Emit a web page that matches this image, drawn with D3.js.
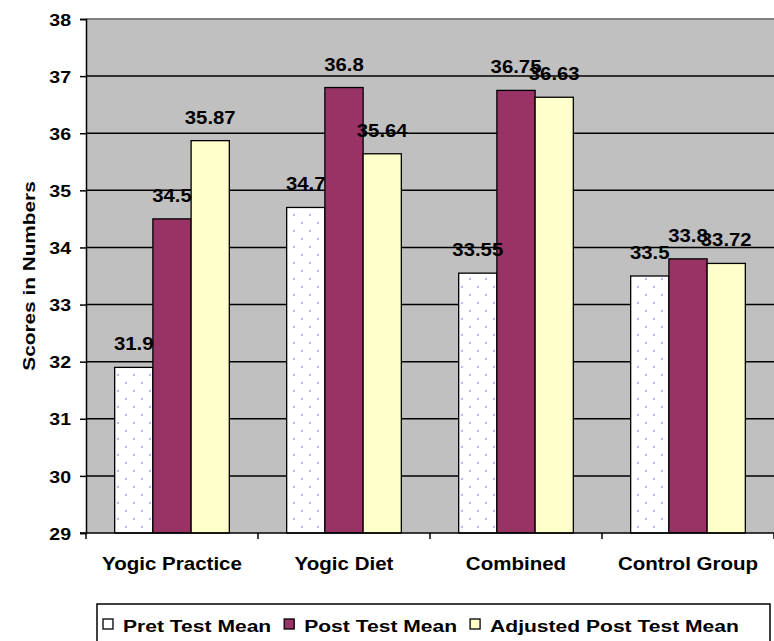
<!DOCTYPE html>
<html><head><meta charset="utf-8">
<script src="https://cdn.jsdelivr.net/npm/d3@7"></script>
<style>html,body{margin:0;padding:0;background:#fff;}svg{display:block;}text{font-family:"Liberation Sans",Arial,sans-serif;font-weight:bold;fill:#000;}</style>
</head><body>
<script>
const categories = ["Yogic Practice", "Yogic Diet", "Combined", "Control Group"];
const seriesNames = ["Pret Test Mean", "Post Test Mean", "Adjusted Post Test Mean"];
const pretValues = [31.9, 34.7, 33.55, 33.5];
const postValues = [34.5, 36.8, 36.75, 33.8];
const adjustedValues = [35.87, 35.64, 36.63, 33.72];
const yTicks = [29, 30, 31, 32, 33, 34, 35, 36, 37, 38];
const yTitle = "Scores in Numbers";

const W = 774, H = 641;
const L = 86, R = 774, T = 19, B = 533;
const svg = d3.select("body").append("svg").attr("width", W).attr("height", H);

const defs = svg.append("defs");
const pat = defs.append("pattern").attr("id", "dots").attr("patternUnits", "userSpaceOnUse")
  .attr("width", 16).attr("height", 16);
pat.append("rect").attr("width", 16).attr("height", 16).attr("fill", "#fff");
pat.append("circle").attr("cx", 6).attr("cy", 7).attr("r", 0.9).attr("fill", "#9a9aff");
pat.append("circle").attr("cx", 14).attr("cy", 15).attr("r", 0.9).attr("fill", "#9a9aff");

const fills = ["url(#dots)", "#993366", "#ffffcc"];
const legendFills = ["#ffffff", "#993366", "#ffffcc"];
const seriesValues = [pretValues, postValues, adjustedValues];

const y = d3.scaleLinear().domain([29, 38]).range([B, T]);
const x0 = d3.scaleBand().domain(categories).range([L, R]).paddingInner(0).paddingOuter(0);
const x1 = d3.scaleBand().domain(seriesNames).range([0, x0.bandwidth()]).paddingInner(0).paddingOuter(0.75);

function stretchText(sel, sx) {
  sel.each(function() {
    const t = d3.select(this);
    const xx = +t.attr("data-x"), yy = +t.attr("data-y");
    t.attr("transform", `translate(${xx},${yy}) scale(${sx},1)`);
  });
}

// plot background
svg.append("rect").attr("x", L).attr("y", T).attr("width", R - L).attr("height", B - T).attr("fill", "#c0c0c0");

// gridlines
svg.append("g").selectAll("line").data(yTicks.filter(d => d > 29 && d < 38)).join("line")
  .attr("x1", L).attr("x2", R).attr("y1", d => y(d)).attr("y2", d => y(d))
  .attr("stroke", "#000").attr("stroke-width", 1.5);
svg.append("line").attr("x1", L).attr("x2", R).attr("y1", y(38)).attr("y2", y(38))
  .attr("stroke", "#808080").attr("stroke-width", 2);

// bars
const rows = categories.map((c, i) => ({ c, vals: seriesNames.map((s, j) => ({ s, j, v: seriesValues[j][i] })) }));
const gBars = svg.append("g");
rows.forEach(r => {
  gBars.selectAll(null).data(r.vals).join("rect")
    .attr("x", d => x0(r.c) + x1(d.s))
    .attr("y", d => y(d.v))
    .attr("width", x1.bandwidth())
    .attr("height", d => B - y(d.v))
    .attr("fill", d => fills[d.j])
    .attr("stroke", "#000").attr("stroke-width", 1.3);
});

// y axis
const yAxis = d3.axisLeft(y).tickValues(yTicks).tickSize(6).tickFormat(d3.format("d"));
const gy = svg.append("g").attr("transform", `translate(${L},0)`).call(yAxis);
gy.select(".domain").attr("stroke", "#000").attr("stroke-width", 1.5);
gy.selectAll(".tick line").attr("stroke", "#000").attr("stroke-width", 1.5);
gy.selectAll(".tick text").attr("font-size", 17).attr("font-family", null)
  .attr("x", -15 / 1.15).attr("transform", "scale(1.15,1)").attr("dy", "0.36em");

// x axis
const gx = svg.append("g").attr("transform", `translate(0,${B})`)
  .call(d3.axisBottom(x0).tickSize(0).tickPadding(0));
gx.select(".domain").remove();
svg.append("line").attr("x1", L - 6).attr("x2", R).attr("y1", B).attr("y2", B).attr("stroke", "#000").attr("stroke-width", 1.5);
const bounds = categories.map(c => x0(c)).concat([R]);
svg.append("g").selectAll("line").data(bounds).join("line")
  .attr("x1", d => d).attr("x2", d => d).attr("y1", B).attr("y2", B + 6)
  .attr("stroke", "#000").attr("stroke-width", 1.5);
gx.selectAll(".tick text").attr("font-size", 18).attr("font-family", null)
  .attr("y", 0).attr("dy", 0)
  .attr("transform", "translate(0,37) scale(1.14,1)");

// data labels
const gLab = svg.append("g");
rows.forEach(r => {
  gLab.selectAll(null).data(r.vals).join("text")
    .attr("data-x", d => x0(r.c) + x1(d.s) + x1.bandwidth() / 2)
    .attr("data-y", d => y(d.v) - 17)
    .attr("text-anchor", "middle").attr("font-size", 18)
    .text(d => d.v)
    .call(stretchText, 1.13);
});

// y title
svg.append("text").attr("transform", `translate(35,${(T + B) / 2}) rotate(-90) scale(1.3,1)`)
  .attr("text-anchor", "middle").attr("font-size", 16).text(yTitle);

// legend
svg.append("rect").attr("x", 97).attr("y", 604).attr("width", 673).attr("height", 60)
  .attr("fill", "#fff").attr("stroke", "#000").attr("stroke-width", 1.5);
const sxL = 1.24;
let lx = 103;
seriesNames.forEach((s, j) => {
  svg.append("rect").attr("x", lx).attr("y", 619).attr("width", 10).attr("height", 10)
    .attr("fill", legendFills[j]).attr("stroke", "#000").attr("stroke-width", 1.3);
  const t = svg.append("text").attr("data-x", lx + 20).attr("data-y", 632)
    .attr("font-size", 17).text(s).call(stretchText, sxL);
  lx = lx + 20 + t.node().getComputedTextLength() * sxL + 13;
});
</script>
</body></html>
